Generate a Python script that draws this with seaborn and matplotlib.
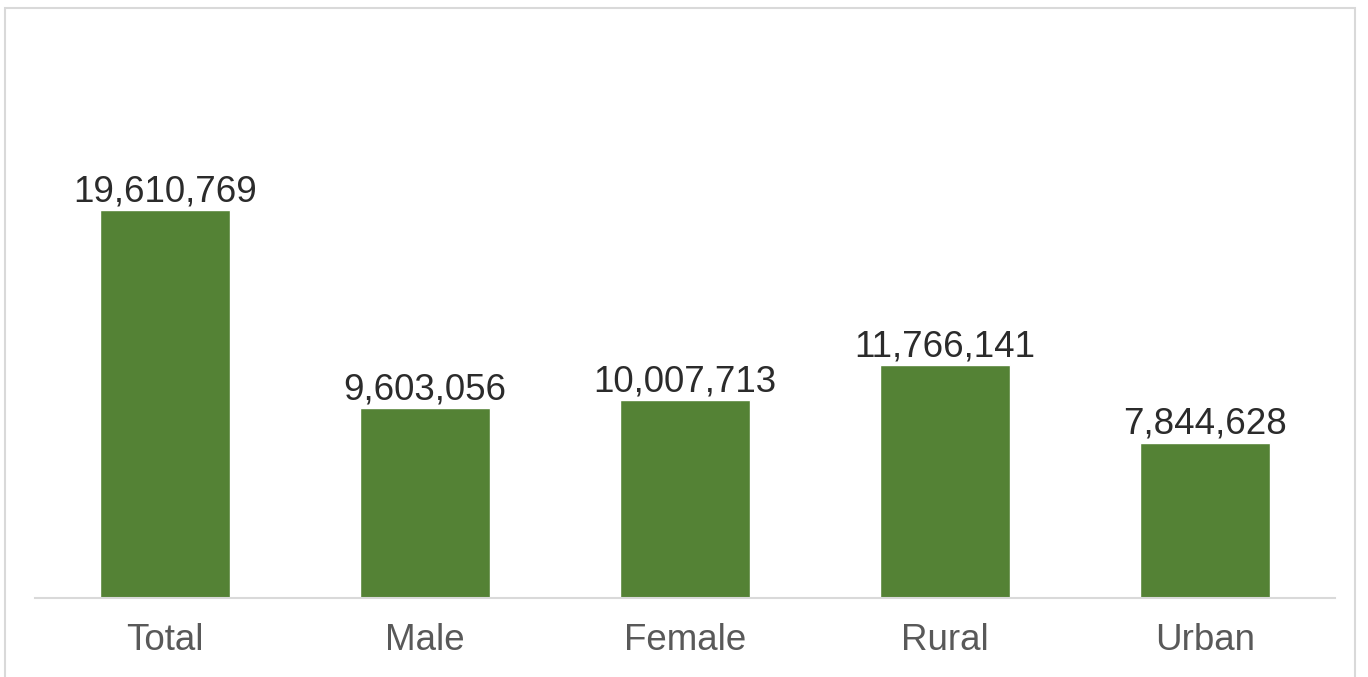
import matplotlib
matplotlib.use("Agg")
import matplotlib.pyplot as plt
import seaborn as sns
import pandas as pd
from matplotlib.patches import Rectangle

categories = ["Total", "Male", "Female", "Rural", "Urban"]
population = [19610769, 9603056, 10007713, 11766141, 7844628]
value_labels = ["19,610,769", "9,603,056", "10,007,713", "11,766,141", "7,844,628"]

sns.set_theme(style="white")
plt.rcParams["font.family"] = ["Liberation Sans", "DejaVu Sans"]

df = pd.DataFrame({"category": categories, "population": population})

W, H = 1368, 677
fig = plt.figure(figsize=(W / 100, H / 100), dpi=100)
fig.patch.set_facecolor("white")

# thin grey frame around the chart area (open at the bottom edge)
fig.patches.append(Rectangle((5 / W, -0.05), (1355 - 5) / W, 1.05 - 8 / H,
                             transform=fig.transFigure, fill=False,
                             edgecolor="#d9d9d9", linewidth=1.5))

ax = fig.add_axes([35 / W, 1 - 598 / H, 1300 / W, (598 - 103) / H])
sns.barplot(data=df, x="category", y="population", color="#548235",
            saturation=1, width=0.5, ax=ax)

ax.set_ylim(0, 25_000_000)
ax.set_xlim(-0.5, 4.5)
ax.set_xlabel("")
ax.set_ylabel("")
ax.set_yticks([])
for side in ["top", "right", "left"]:
    ax.spines[side].set_visible(False)
ax.spines["bottom"].set_color("#d9d9d9")
ax.spines["bottom"].set_linewidth(1.5)
ax.tick_params(axis="x", length=0, pad=18, labelsize=26.5, labelcolor="#595959")

for bar, lab in zip(ax.patches, value_labels):
    ax.annotate(lab, (bar.get_x() + bar.get_width() / 2, bar.get_height()),
                xytext=(0, 0.5), textcoords="offset points",
                ha="center", va="bottom", fontsize=26.5, color="#2b2b2b")

fig.savefig("out.png", dpi=100, facecolor="white")
